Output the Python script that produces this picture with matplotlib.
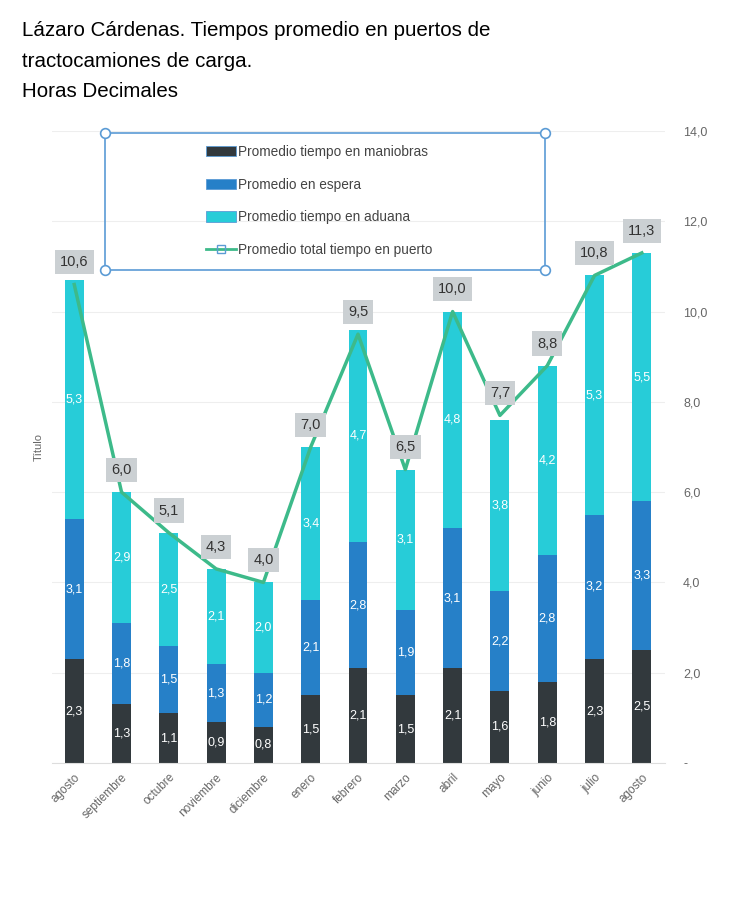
import numpy as np
import matplotlib
matplotlib.use('Agg')
import matplotlib.pyplot as plt
from matplotlib.patches import Rectangle, Patch
from matplotlib.lines import Line2D

plt.rcParams['font.family'] = ['Liberation Sans', 'DejaVu Sans']

meses = ['agosto', 'septiembre', 'octubre', 'noviembre', 'diciembre', 'enero',
         'febrero', 'marzo', 'abril', 'mayo', 'junio', 'julio', 'agosto']
maniobras = [2.3, 1.3, 1.1, 0.9, 0.8, 1.5, 2.1, 1.5, 2.1, 1.6, 1.8, 2.3, 2.5]
espera = [3.1, 1.8, 1.5, 1.3, 1.2, 2.1, 2.8, 1.9, 3.1, 2.2, 2.8, 3.2, 3.3]
aduana = [5.3, 2.9, 2.5, 2.1, 2.0, 3.4, 4.7, 3.1, 4.8, 3.8, 4.2, 5.3, 5.5]
total = [10.6, 6.0, 5.1, 4.3, 4.0, 7.0, 9.5, 6.5, 10.0, 7.7, 8.8, 10.8, 11.3]

c_man = '#32393d'
c_esp = '#2680c8'
c_adu = '#27ccd8'
c_tot = '#3dba8a'

def fmt(v):
    return f'{v:.1f}'.replace('.', ',')

fig = plt.figure(figsize=(7.43, 9.08), dpi=100)
ax = fig.add_axes([0.070, 0.1597, 0.825, 0.696])

x = np.arange(len(meses))
w = 0.4
b2 = np.array(maniobras)
b3 = b2 + np.array(espera)
ax.bar(x, maniobras, w, color=c_man, zorder=2)
ax.bar(x, espera, w, bottom=b2, color=c_esp, zorder=2)
ax.bar(x, aduana, w, bottom=b3, color=c_adu, zorder=2)

# etiquetas dentro de las barras
for i in range(len(x)):
    for base, val in [(0, maniobras[i]), (b2[i], espera[i]), (b3[i], aduana[i])]:
        ax.text(x[i], base + val / 2, fmt(val), color='white', fontsize=9,
                ha='center', va='center', zorder=3)

ax.plot(x, total, color=c_tot, lw=2.5, zorder=4)
for i, v in enumerate(total):
    ax.annotate(fmt(v), (x[i], v), xytext=(0, 16), textcoords='offset points',
                ha='center', va='center', fontsize=10.5, color='#333333', zorder=5,
                bbox=dict(boxstyle='square,pad=0.35', fc='#cbd0d3', ec='none'))

ax.set_xlim(-0.47, 12.49)
ax.set_ylim(0, 14)
ax.yaxis.tick_right()
ax.set_yticks(np.arange(0, 15, 2))
ax.set_yticklabels(['-'] + [fmt(v) for v in np.arange(2, 15, 2)])
ax.tick_params(axis='y', length=0, pad=13, labelsize=9, labelcolor='#666666')
ax.set_xticks(x)
ax.set_xticklabels(meses, rotation=45, ha='right', rotation_mode='anchor')
ax.tick_params(axis='x', length=0, pad=6, labelsize=8.5, labelcolor='#666666')
ax.yaxis.set_label_position('left')
ax.set_ylabel('Título', fontsize=8, color='#666666', labelpad=6)
ax.grid(True, axis='y', color='#eeeeee', lw=0.8, zorder=0)
for s in ['top', 'right', 'left']:
    ax.spines[s].set_visible(False)
ax.spines['bottom'].set_color('#dddddd')

fig.text(0.030, 0.977, 'Lázaro Cárdenas. Tiempos promedio en puertos de\ntractocamiones de carga.\nHoras Decimales',
         fontsize=14.8, color='black', va='top', ha='left', linespacing=1.78)

# leyenda con marco seleccionado
fig.add_artist(Rectangle((0.1413, 0.7026), 0.592, 0.1509, transform=fig.transFigure,
                         fill=False, ec='#5b9bd5', lw=1.2, zorder=6))
fig.add_artist(Line2D([0.1413, 0.7333, 0.1413, 0.7333], [0.7026, 0.7026, 0.8535, 0.8535],
                      transform=fig.transFigure, ls='none', marker='o', ms=7,
                      mfc='white', mec='#5b9bd5', mew=1.2, zorder=7))
handles = [
    Patch(fc=c_man, ec='#5b9bd5', lw=0.6, label='Promedio tiempo en maniobras'),
    Patch(fc=c_esp, ec='#5b9bd5', lw=0.6, label='Promedio en espera'),
    Patch(fc=c_adu, ec='#5b9bd5', lw=0.6, label='Promedio tiempo en aduana'),
    Line2D([], [], color=c_tot, lw=2, marker='s', ms=6, mfc='none', mec='#5b9bd5',
           label='Promedio total tiempo en puerto'),
]
fig.legend(handles=handles, loc='upper left', bbox_to_anchor=(0.268, 0.848),
           frameon=False, fontsize=9.8, handlelength=2.2, handleheight=0.8,
           handletextpad=0.15, labelspacing=1.38, borderpad=0, labelcolor='#444444')

fig.savefig('out.png', dpi=100)
